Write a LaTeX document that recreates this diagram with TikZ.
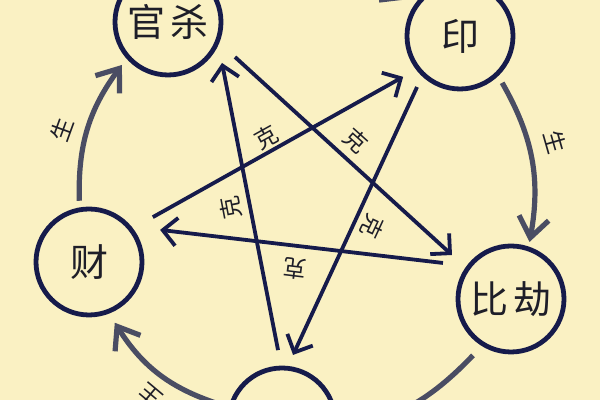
\documentclass[tikz,border=0pt]{standalone}
\usepackage{fontspec}
\newfontfamily\cjk{Noto Sans CJK SC}
\usetikzlibrary{arrows.meta,calc}
\definecolor{bg}{HTML}{FAF1C3}
\definecolor{navy}{HTML}{161B4B}
\definecolor{slate}{HTML}{4A4D63}
\definecolor{ink}{HTML}{1E1E28}
\begin{document}
\begin{tikzpicture}[x=0.5pt,y=0.5pt,
  elem/.style={circle,draw=navy,line width=2.4pt,minimum size=53pt,inner sep=0pt,
    font=\cjk\fontsize{19}{19}\selectfont,text=ink},
  kline/.style={draw=navy,line width=1.9pt,-{Straight Barb[length=7pt,width=14pt,line width=1.9pt]}},
  sline/.style={draw=slate,line width=2.6pt,-{Straight Barb[length=10pt,width=15pt,line width=2.6pt]}},
  klab/.style={font=\cjk\fontsize{11.5}{11.5}\selectfont,text=ink,inner sep=0pt},
]
\useasboundingbox (0,0) rectangle (600,400);
\clip (0,0) rectangle (600,400);
\fill[bg] (0,0) rectangle (600,400);

% elements
\node[elem] (gs)  at (168,378) {官\hspace{3pt}杀};
\node[elem] (yin) at (460,364) {印};
\node[elem] (bj)  at (511,101) {比\hspace{3pt}劫};
\node[elem] (cai) at (89,138)  {财};
\node[elem] (ss)  at (282,-21) {};

% generating cycle (生)
\draw[sline] ($(cai)+(99:62)$)  to[bend left=19] ($(gs)+(223:63)$);
\draw[sline] ($(gs)+(40:62)$)   to[bend left=25] ($(yin)+(145:64)$);
\draw[sline] ($(yin)+(-48:63)$) to[bend left=20] ($(bj)+(72:60)$);
\draw[sline] ($(bj)+(236:68)$)  to[bend left=16] ($(ss)+(-8:64)$);
\draw[sline] ($(ss)+(165:64)$)  to[bend left=20] ($(cai)+(-67:66)$);

\node[klab,rotate=70]  (s1) at (62,270) {生};
\node[klab,rotate=-74] (s2) at (555,258) {生};
\node[klab,rotate=140] (s3) at (150,4) {生};

% controlling star (克)
\draw[kline] ($(cai)+(35.1:78)$)  -- ($(yin)+(215.7:70)$);
\draw[kline] ($(bj)+(152.1:77)$)  -- ($(cai)+(24.3:78)$);
\draw[kline] ($(gs)+(-27.6:75.6)$) -- ($(bj)+(143.3:73.6)$);
\draw[kline] ($(yin)+(229.9:66.7)$) -- ($(ss)+(80.5:67)$);
\draw[kline] ($(ss)+(93.2:71)$)   -- ($(gs)+(-37.2:67.8)$);

\node[klab,rotate=29]   (k1) at (266,263) {克};
\node[klab,rotate=-42]  (k2) at (356,259) {克};
\node[klab,rotate=101]  (k3) at (231,192) {克};
\node[klab,rotate=-115] (k4) at (373,173) {克};
\node[klab,rotate=173]  (k5) at (295,131) {克};
\end{tikzpicture}
\end{document}
